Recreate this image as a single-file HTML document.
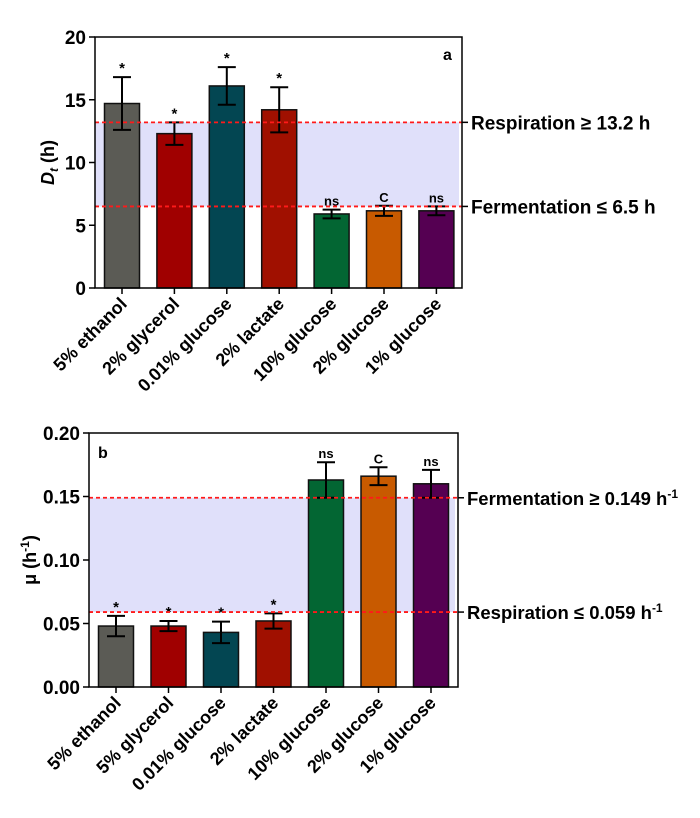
<!DOCTYPE html>
<html><head><meta charset="utf-8">
<style>
html,body{margin:0;padding:0;background:#fff;}
svg{display:block;font-family:"Liberation Sans",Arial,sans-serif;font-weight:bold;}
</style></head>
<body>
<svg id="s" width="700" height="818" viewBox="0 0 700 818" xmlns="http://www.w3.org/2000/svg"></svg>
<script>
const colors = ["#5b5b55","#a00000","#034652","#a01000","#036633","#c85a00","#550052"];
const catsA = ["5% ethanol","2% glycerol","0.01% glucose","2% lactate","10% glucose","2% glucose","1% glucose"];
const valsA = [14.7,12.3,16.1,14.2,5.9,6.15,6.15];
const errA = [2.1,0.9,1.5,1.8,0.35,0.4,0.35];
const sigA = ["*","*","*","*","ns","C","ns"];
const ticksA = [0,5,10,15,20];
const catsB = ["5% ethanol","5% glycerol","0.01% glucose","2% lactate","10% glucose","2% glucose","1% glucose"];
const valsB = [0.048,0.048,0.043,0.052,0.163,0.166,0.160];
const errB = [0.008,0.004,0.0085,0.006,0.014,0.007,0.011];
const sigB = ["*","*","*","*","ns","C","ns"];
const ticksB = [0.00,0.05,0.10,0.15,0.20];
const svg = document.getElementById('s');
const NS = "http://www.w3.org/2000/svg";
function mk(tag, attrs, parent){const e=document.createElementNS(NS,tag);for(const k in attrs)e.setAttribute(k,attrs[k]);(parent||svg).appendChild(e);return e;}

function panel(cfg){
  const g = mk('g',{});
  
  
  const {L,R,T,B,ymax} = cfg;
  const y = v => B - v/ymax*(B-T);
  const step = cfg.step, x0 = cfg.x0;
  const x = i => x0 + i*step;
  const band = mk('rect',{x:L,y:y(cfg.hi),width:R-L-3,height:y(cfg.lo)-y(cfg.hi),fill:"#e0e0fa"},g);
  
  
  cfg.vals.forEach((v,i)=>{
    const b = mk('rect',{x:x(i)-17.5,y:y(v),width:35,height:B-y(v),fill:colors[i],stroke:"#111","stroke-width":1.5},g);
    
    
    const e = cfg.err[i];
    const eb = mk('path',{d:`M${x(i)} ${y(v+e)}V${y(v-e)}M${x(i)-9} ${y(v+e)}H${x(i)+9}M${x(i)-9} ${y(v-e)}H${x(i)+9}`,stroke:"#000","stroke-width":2,fill:"none"},g);
    
    
    const t = mk('text',{x:x(i),y:y(v+e)-4,"text-anchor":"middle","font-size":cfg.sig[i]==="*"?15:13},g);
    t.textContent = cfg.sig[i];
    
    
    mk('line',{x1:x(i),x2:x(i),y1:B,y2:B+6,stroke:"#000","stroke-width":1.5},g);
    const xl = mk('text',{transform:`translate(${x(i)+6},${B+17}) rotate(-45)`,"text-anchor":"end","font-size":18},g);
    xl.textContent = cfg.cats[i];
    
    
  });
  [cfg.hi,cfg.lo].forEach((v,k)=>{
    const l = mk('line',{x1:L,x2:R,y1:y(v),y2:y(v),stroke:"#ff1a1a","stroke-width":1.8,"stroke-dasharray":"4,3"},g);
    
    
    mk('line',{x1:R,x2:R+6,y1:y(v),y2:y(v),stroke:"#000","stroke-width":1.5},g);
    const t = mk('text',{x:R+9,y:y(v)+7,"font-size":cfg.lfs},g);
    t.innerHTML = cfg.labels[k];
    
    
  });
  const f = mk('rect',{x:L,y:T,width:R-L,height:B-T,fill:"none",stroke:"#000","stroke-width":1.5},g);
  
  
  cfg.ticks.forEach(v=>{
    mk('line',{x1:L-6,x2:L,y1:y(v),y2:y(v),stroke:"#000","stroke-width":1.5},g);
    const t = mk('text',{x:L-9,y:y(v)+7,"text-anchor":"end","font-size":19},g);
    t.textContent = cfg.fmt(v);
    
    
  });
  const p = mk('text',{x:cfg.px,y:cfg.py,"font-size":16},g);
  p.textContent = cfg.letter;
  
  
  const yt = mk('text',{transform:`translate(${cfg.ytx},${(T+B)/2}) rotate(-90)`,"text-anchor":"middle","font-size":18},g);
  yt.innerHTML = cfg.ytitle;
  
  
}
panel({name:'panel-a',L:95,R:462,T:37,B:288,ymax:20,x0:122,step:52.4,vals:valsA,err:errA,sig:sigA,cats:catsA,
  ticks:ticksA,fmt:v=>String(v),hi:13.2,lo:6.5,lfs:19,
  labels:["Respiration \u2265 13.2 h","Fermentation \u2264 6.5 h"],
  letter:"a",px:443,py:60,ytx:54,ytitle:'<tspan font-style="italic">D</tspan><tspan font-style="italic" font-size="12" dy="4">t</tspan><tspan dy="-4"> (h)</tspan>'});
panel({name:'panel-b',L:89,R:458,T:433,B:687,ymax:0.2,x0:116,step:52.5,vals:valsB,err:errB,sig:sigB,cats:catsB,
  ticks:ticksB,fmt:v=>v.toFixed(2),hi:0.149,lo:0.059,lfs:18.5,
  labels:['Fermentation \u2265 0.149 h<tspan font-size="12" dy="-7">-1</tspan>','Respiration \u2264 0.059 h<tspan font-size="12" dy="-7">-1</tspan>'],
  letter:"b",px:98,py:458,ytx:36,ytitle:'\u03bc (h<tspan font-size="12" dy="-7">-1</tspan><tspan dy="7">)</tspan>'});
</script>
</body></html>
